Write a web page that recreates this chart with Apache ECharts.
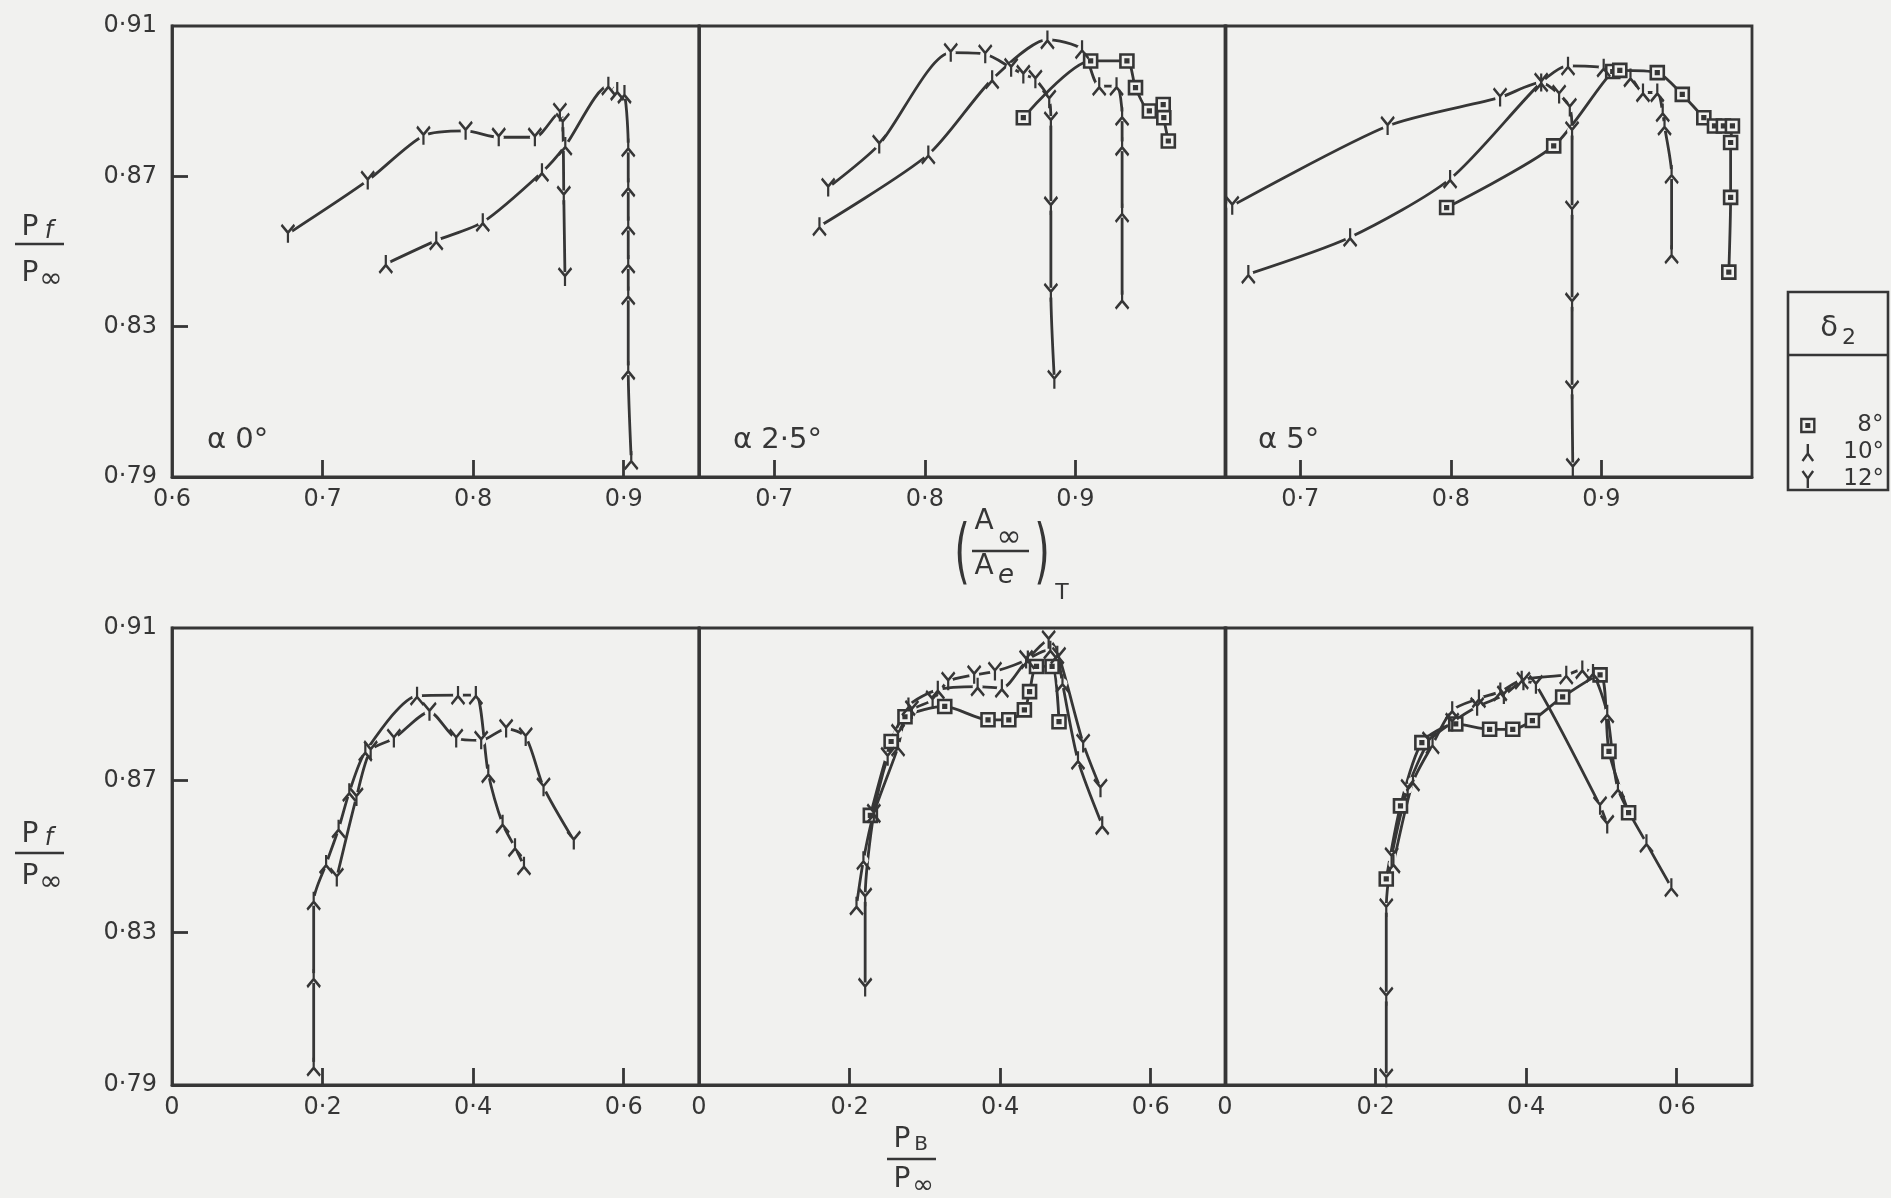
<!DOCTYPE html>
<html>
<head>
<meta charset="utf-8">
<title>Pf / P∞</title>
<script src="https://cdn.jsdelivr.net/npm/echarts@6/dist/echarts.min.js"></script>
<style>
html, body { margin: 0; padding: 0; background: #f1f1ef; }
#chart { width: 1891px; height: 1198px; }
</style>
</head>
<body>
<div id="chart"></div>
<script>
// tick values
const yTicks = [0.79, 0.83, 0.87, 0.91]
const xTicksTop = [0.7, 0.8, 0.9]
const xTicksBottom = [0.2, 0.4, 0.6]
const xLabelsBottom = [0, 0.2, 0.4, 0.6]
const panelTitles = ['α 0°', 'α 2·5°', 'α 5°']
const legendNames = ['8°', '10°', '12°']

// top row: x = (A∞/Ae)T, y = Pf/P∞
const topA0d10 = [[0.742, 0.8467], [0.7755, 0.8529], [0.8064, 0.8578], [0.8457, 0.8711], [0.8612, 0.8781], [0.8898, 0.8941], [0.8957, 0.8927], [0.9005, 0.8919], [0.903, 0.8777], [0.903, 0.8671], [0.903, 0.8569], [0.903, 0.8467], [0.903, 0.8383], [0.903, 0.8184], [0.905, 0.7945]]
const topA0d12 = [[0.677, 0.8547], [0.730, 0.8689], [0.767, 0.8808], [0.795, 0.8821], [0.817, 0.8804], [0.841, 0.8804], [0.8576, 0.887], [0.8595, 0.8843], [0.8602, 0.8649], [0.861, 0.8432]]

const topA25d8 = [[0.8654, 0.8856], [0.9101, 0.9007], [0.9342, 0.9007], [0.9399, 0.8936], [0.9491, 0.8874], [0.9583, 0.8891], [0.9587, 0.8856], [0.9617, 0.8794]]
const topA25d10 = [[0.730, 0.8567], [0.8023, 0.8758], [0.8447, 0.8958], [0.8814, 0.9064], [0.9044, 0.9038], [0.9158, 0.894], [0.9273, 0.894], [0.931, 0.886], [0.931, 0.878], [0.931, 0.8603], [0.931, 0.8372]]
const topA25d12 = [[0.7358, 0.867], [0.7697, 0.8785], [0.8172, 0.9029], [0.8401, 0.9025], [0.8573, 0.8989], [0.8654, 0.8971], [0.8734, 0.8958], [0.8826, 0.8905], [0.8837, 0.8847], [0.8837, 0.8621], [0.8837, 0.839], [0.886, 0.8159]]

const topA5d8 = [[0.7972, 0.8617], [0.8683, 0.8781], [0.9075, 0.8979], [0.9122, 0.8982], [0.9371, 0.8976], [0.9537, 0.8918], [0.968, 0.8856], [0.9751, 0.8834], [0.981, 0.8834], [0.987, 0.8834], [0.9858, 0.879], [0.9858, 0.8644], [0.9846, 0.8445]]
const topA5d10 = [[0.6655, 0.844], [0.7331, 0.8538], [0.7995, 0.8693], [0.86, 0.895], [0.8778, 0.8994], [0.9015, 0.8989], [0.9193, 0.8963], [0.9276, 0.8923], [0.9371, 0.8923], [0.9407, 0.887], [0.9419, 0.8834], [0.9466, 0.8706], [0.9466, 0.8493]]
const topA5d12 = [[0.6548, 0.8622], [0.758, 0.8834], [0.8327, 0.891], [0.86, 0.895], [0.8719, 0.8918], [0.879, 0.8883], [0.8805, 0.8821], [0.8805, 0.861], [0.8805, 0.8365], [0.8805, 0.8132], [0.881, 0.7925]]

// bottom row: x = PB/P∞, y = Pf/P∞
const botA0d10 = [[0.1882, 0.7948], [0.1882, 0.8181], [0.1882, 0.8384], [0.2047, 0.848], [0.2213, 0.8573], [0.2355, 0.8669], [0.2568, 0.8775], [0.3255, 0.8922], [0.3799, 0.8924], [0.4036, 0.8924], [0.4201, 0.8718], [0.4391, 0.8586], [0.4556, 0.8524], [0.4675, 0.8476]]
const botA0d12 = [[0.2189, 0.8445], [0.245, 0.8656], [0.2639, 0.8779], [0.2947, 0.881], [0.342, 0.888], [0.3775, 0.881], [0.4107, 0.8805], [0.4438, 0.8836], [0.4698, 0.8814], [0.4935, 0.8682], [0.5337, 0.8542]]

const botA25d8 = [[0.2276, 0.8608], [0.2552, 0.8802], [0.2736, 0.8867], [0.3264, 0.8894], [0.3839, 0.8859], [0.4115, 0.8859], [0.4322, 0.8885], [0.4391, 0.8933], [0.4483, 0.8999], [0.469, 0.8999], [0.4782, 0.8854]]
const botA25d10 = [[0.2092, 0.8371], [0.2184, 0.849], [0.2322, 0.8613], [0.2644, 0.8788], [0.2782, 0.8894], [0.3172, 0.8938], [0.3701, 0.8946], [0.4023, 0.8942], [0.4368, 0.9017], [0.4667, 0.9043], [0.4759, 0.903], [0.4828, 0.8955], [0.5034, 0.8753], [0.5356, 0.8582]]
const botA25d12 = [[0.2207, 0.8156], [0.2207, 0.8393], [0.2322, 0.8613], [0.2506, 0.8762], [0.2644, 0.8823], [0.2828, 0.8885], [0.3103, 0.8911], [0.331, 0.896], [0.3655, 0.8977], [0.3931, 0.8986], [0.4345, 0.9017], [0.4644, 0.9069], [0.4782, 0.9025], [0.5103, 0.8797], [0.5333, 0.8679]]

const botA5d8 = [[0.2142, 0.8441], [0.2331, 0.8633], [0.2615, 0.8799], [0.3065, 0.8848], [0.3515, 0.8834], [0.3822, 0.8834], [0.4083, 0.8857], [0.4485, 0.8919], [0.4982, 0.8977], [0.51, 0.8776], [0.5361, 0.8615]]
const botA5d10 = [[0.2237, 0.8481], [0.2497, 0.8696], [0.2757, 0.8794], [0.3018, 0.8884], [0.3373, 0.8915], [0.3657, 0.8933], [0.3941, 0.8964], [0.4533, 0.8977], [0.4746, 0.8991], [0.4888, 0.8982], [0.5077, 0.8875], [0.5219, 0.8678], [0.5598, 0.8535], [0.5929, 0.8419]]
const botA5d12 = [[0.2142, 0.7918], [0.2142, 0.8132], [0.2142, 0.8365], [0.2213, 0.8499], [0.2426, 0.8678], [0.271, 0.8803], [0.3018, 0.8852], [0.3349, 0.8893], [0.3704, 0.8924], [0.3964, 0.896], [0.413, 0.8951], [0.4982, 0.8633], [0.5077, 0.8584]]

const INK = '#363636'
const BG = '#f1f1ef'
const FONT = 'DejaVu Sans'

// hand-drawn style markers
const marks = {
  '8°': {symbol: 'path://M0,0L10,0L10,10L0,10ZM4,4L6,4L6,6L4,6Z', size: [13, 13], fill: BG},
  '10°': {symbol: 'path://M5,0L5,9M0,16L5,9L10,16', size: [13, 18], fill: 'none'},
  '12°': {symbol: 'path://M0,0L5,7L10,0M5,7L5,16', size: [13, 18], fill: 'none'},
}

const curves = [
  [0, topA0d10, '10°'], [0, topA0d12, '12°'],
  [1, topA25d8, '8°'], [1, topA25d10, '10°'], [1, topA25d12, '12°'],
  [2, topA5d8, '8°'], [2, topA5d10, '10°'], [2, topA5d12, '12°'],
  [3, botA0d10, '10°'], [3, botA0d12, '12°'],
  [4, botA25d8, '8°'], [4, botA25d10, '10°'], [4, botA25d12, '12°'],
  [5, botA5d8, '8°'], [5, botA5d10, '10°'], [5, botA5d12, '12°'],
]

const panelLeft = [172, 699, 1225]
const panelWidth = 527

function fmt(v) {
  if (v === 0) return '0'
  const d = Math.abs(v * 10 - Math.round(v * 10)) < 1e-6 ? 1 : 2
  return v.toFixed(d).replace('.', '·')
}

function curveSeries(grid, data, name) {
  const m = marks[name]
  return [{
    // line, with small paper-coloured discs so the stroke breaks at each point
    type: 'line', xAxisIndex: grid, yAxisIndex: grid, data,
    smooth: 0.25, symbol: 'circle', symbolSize: 10, showAllSymbol: true,
    itemStyle: {color: BG, borderWidth: 0},
    lineStyle: {color: INK, width: 2.8},
    emphasis: {disabled: true}, silent: true, z: 2,
  }, {
    type: 'scatter', name, xAxisIndex: grid, yAxisIndex: grid, data,
    symbol: m.symbol, symbolSize: m.size,
    itemStyle: {color: m.fill, borderColor: INK, borderWidth: 2.6, opacity: 1},
    emphasis: {disabled: true}, silent: true, z: 4,
  }]
}

const grids = [], xAxes = [], yAxes = []
for (let i = 0; i < 6; i++) {
  const col = i % 3
  const top = i < 3
  grids.push({
    left: panelLeft[col], width: panelWidth,
    top: top ? 26 : 628, height: top ? 451 : 457,
    show: true, borderColor: INK, borderWidth: 2.8, backgroundColor: 'transparent',
    outerBoundsMode: 'none', containLabel: false,
  })
  xAxes.push({
    gridIndex: i, type: 'value',
    min: top ? (col === 0 ? 0.6 : 0.65) : 0,
    max: top ? (col === 0 ? 0.95 : 1.0) : 0.7,
    axisLine: {show: true, lineStyle: {color: INK, width: 2.8}},
    axisTick: {show: true, inside: true, length: 17, customValues: top ? xTicksTop : xTicksBottom,
      lineStyle: {color: INK, width: 2.8}},
    axisLabel: {customValues: top ? (col === 0 ? [0.6].concat(xTicksTop) : xTicksTop) : xLabelsBottom,
      formatter: fmt, margin: 11, fontSize: 24, color: INK, fontFamily: FONT},
    splitLine: {show: false},
  })
  yAxes.push({
    gridIndex: i, type: 'value', min: 0.79, max: 0.91,
    axisLine: {show: true, lineStyle: {color: INK, width: 2.8}},
    axisTick: {show: col === 0, inside: true, length: 16, customValues: [0.83, 0.87],
      lineStyle: {color: INK, width: 2.8}},
    axisLabel: {show: col === 0, customValues: yTicks, formatter: fmt, margin: 15,
      fontSize: 24, color: INK, fontFamily: FONT},
    splitLine: {show: false},
  })
}

const series = []
curves.forEach(c => series.push(...curveSeries(c[0], c[1], c[2])))

function txt(x, y, text, size, italic, extra) {
  return Object.assign({type: 'text', x, y, silent: true,
    style: {text, fontSize: size, fontFamily: FONT, fill: INK, align: 'center', verticalAlign: 'middle',
      fontStyle: italic ? 'italic' : 'normal'}}, extra || {})
}
function bar(x1, x2, y) {
  return {type: 'line', silent: true, shape: {x1, y1: y, x2, y2: y}, style: {stroke: INK, lineWidth: 2.6}}
}

const graphic = [
  // panel labels
  ...panelTitles.map((t, i) => ({type: 'text', x: [207, 733, 1258][i], y: 440, silent: true,
    style: {text: t, fontSize: 29, fontFamily: FONT, fill: INK, align: 'left', verticalAlign: 'middle'}})),
  // y titles Pf / P∞
  ...[[228, 244, 274], [835, 853, 877]].flatMap(r => [
    txt(30, r[0], 'P', 28), txt(49, r[0] + 4, 'f', 24, true),
    bar(15, 64, r[1]),
    txt(30, r[2], 'P', 28), txt(51, r[2] + 6, '∞', 28),
  ]),
  // top x title (A∞ / Ae)T
  txt(962, 556, '(', 40, false, {scaleY: 1.8}),
  txt(1042, 556, ')', 40, false, {scaleY: 1.8}),
  txt(984, 522, 'A', 28), txt(1009, 538, '∞', 30),
  bar(972, 1029, 551),
  txt(984, 567, 'A', 28), txt(1006, 576, 'e', 26, true),
  txt(1062, 593, 'T', 22),
  // bottom x title PB / P∞
  txt(902, 1140, 'P', 28), txt(921, 1145, 'B', 20),
  bar(887, 936, 1159),
  txt(902, 1180, 'P', 28), txt(923, 1186, '∞', 26),
  // legend frame and heading δ2
  {type: 'rect', silent: true, shape: {x: 1788, y: 292, width: 100, height: 198},
    style: {fill: 'none', stroke: INK, lineWidth: 2.6}},
  bar(1788, 1888, 355),
  txt(1829, 328, 'δ', 29), txt(1849, 338, '2', 22),
]

const chart = echarts.init(document.getElementById('chart'), null, {renderer: 'canvas'})
chart.setOption({
  backgroundColor: BG,
  animation: false,
  grid: grids,
  xAxis: xAxes,
  yAxis: yAxes,
  legend: {
    orient: 'vertical', left: 1800, top: 414, padding: 0,
    itemWidth: 13, itemHeight: 17, itemGap: 4, selectedMode: false,
    textStyle: {fontSize: 23, fontFamily: FONT, color: INK, lineHeight: 17},
    data: legendNames.map((n, i) => ({
      name: n, icon: marks[n].symbol,
      itemStyle: {color: marks[n].fill, borderColor: INK, borderWidth: 2.4},
      textStyle: {padding: [0, 0, 0, i === 0 ? 38 : 24]},
    })),
  },
  graphic,
  series,
})
</script>
</body>
</html>
